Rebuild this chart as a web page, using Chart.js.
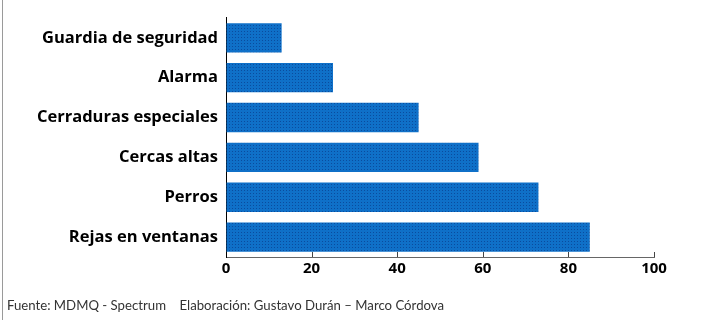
<!DOCTYPE html>
<html>
<head>
<meta charset="utf-8">
<script src="https://cdn.jsdelivr.net/npm/chart.js@4"></script>
<style>
  html, body { margin: 0; padding: 0; background: #fff; }
  #wrap { position: relative; width: 708px; height: 320px; overflow: hidden; }
  #leftline { position: absolute; left: 2px; top: 0; width: 1px; height: 320px; background: #9a9a9a; }
  #foot { position: absolute; left: 7px; top: 297px; font-family: Lato, "Open Sans", sans-serif; font-size: 13.2px; color: #333; white-space: pre; }
  canvas { position: absolute; left: 0; top: 0; }
</style>
</head>
<body>
<div id="wrap">
  <canvas id="c" width="708" height="320"></canvas>
  <div id="leftline"></div>
  <div id="foot">Fuente: MDMQ - Spectrum    Elaboración: Gustavo Durán – Marco Córdova</div>
</div>
<script>
const categories = ["Guardia de seguridad", "Alarma", "Cerraduras especiales", "Cercas altas", "Perros", "Rejas en ventanas"];
const values = [13, 25, 45, 59, 73, 85];
const xTicks = [0, 20, 40, 60, 80, 100];

function makePattern() {
  const p = document.createElement('canvas');
  p.width = 3; p.height = 3;
  const g = p.getContext('2d');
  g.fillStyle = '#0f70c8';
  g.fillRect(0, 0, 3, 3);
  g.fillStyle = '#0a4c9e';
  g.fillRect(1, 1, 1, 1);
  return document.getElementById('c').getContext('2d').createPattern(p, 'repeat');
}

const innerTicks = {
  id: 'innerTicks',
  afterDraw(chart) {
    const s = chart.scales.x;
    const ctx = chart.ctx;
    ctx.save();
    ctx.strokeStyle = '#444';
    ctx.lineWidth = 1;
    s.ticks.forEach((t, i) => {
      if (i === 0) return;
      const x = Math.round(s.getPixelForTick(i)) + 0.5;
      ctx.beginPath();
      ctx.moveTo(x, s.top);
      ctx.lineTo(x, s.top - 5);
      ctx.stroke();
    });
    ctx.restore();
  }
};

new Chart(document.getElementById('c'), {
  type: 'bar',
  data: {
    labels: categories,
    datasets: [{
      data: values,
      backgroundColor: makePattern(),
      borderWidth: 0,
      barPercentage: 0.8,
      categoryPercentage: 0.92
    }]
  },
  options: {
    indexAxis: 'y',
    responsive: false,
    animation: false,
    layout: { padding: { left: 0, top: 12, right: 54, bottom: 38 } },
    plugins: { legend: { display: false }, tooltip: { enabled: false } },
    scales: {
      x: {
        min: 0, max: 100,
        afterBuildTicks(scale) { scale.ticks = xTicks.map(v => ({ value: v })); },
        afterFit(scale) { scale.height = 25; },
        grid: { display: true, drawOnChartArea: false, drawTicks: false },
        border: { display: true, color: '#666', width: 1 },
        ticks: { color: '#000', padding: 3, font: { family: 'Open Sans', size: 15, weight: 'bold' } }
      },
      y: {
        afterFit(scale) { scale.width = 226; },
        grid: { display: false, drawTicks: false },
        border: { display: true, color: '#000', width: 1 },
        ticks: { color: '#000', padding: 8, font: { family: 'Open Sans', size: 16.5, weight: 'bold' } }
      }
    }
  },
  plugins: [innerTicks]
});
</script>
</body>
</html>
